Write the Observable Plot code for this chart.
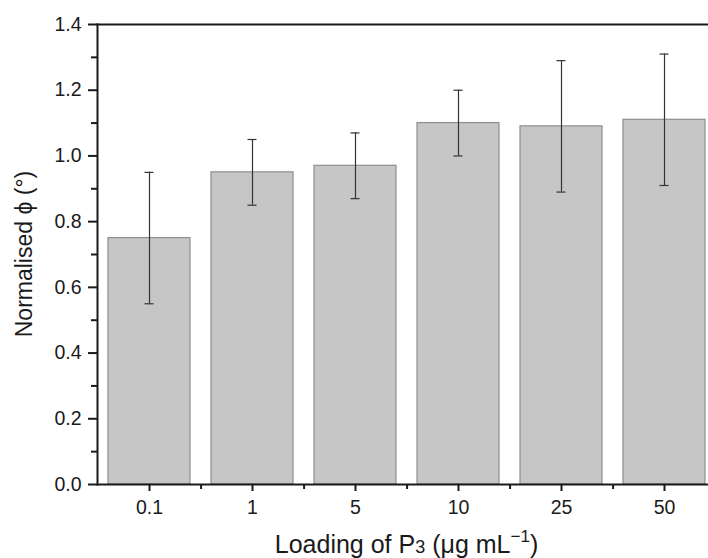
<!DOCTYPE html>
<html>
<head>
<meta charset="utf-8">
<script src="https://cdn.jsdelivr.net/npm/d3@7"></script>
<script src="https://cdn.jsdelivr.net/npm/@observablehq/plot@0.6"></script>
<style>
  html, body { margin: 0; padding: 0; background: #fff; }
  svg text.ticklab { font-size: 19.5px !important; }
</style>
</head>
<body>
<div id="chart"></div>
<script>
const categories = ["0.1", "1", "5", "10", "25", "50"];
const means = [0.75, 0.95, 0.97, 1.10, 1.09, 1.11];
const errors = [0.20, 0.10, 0.10, 0.10, 0.20, 0.20];
const yTicks = [0, 0.2, 0.4, 0.6, 0.8, 1.0, 1.2, 1.4];
const yMinorTicks = [0.1, 0.3, 0.5, 0.7, 0.9, 1.1, 1.3];

const data = categories.map((c, i) => ({cat: c, mean: means[i], lo: means[i] - errors[i], hi: means[i] + errors[i]}));

const W = 708, H = 558, ML = 97, MT = 24, MB = 74;
const xRange = [97, 716];
const step = (xRange[1] - xRange[0]) / categories.length;
const ink = "#1a1a1a";

const svg = Plot.plot({
  width: W, height: H,
  marginLeft: ML, marginTop: MT, marginBottom: MB, marginRight: 0,
  style: {fontFamily: "'Liberation Sans', Arial, sans-serif", background: "#fff", color: ink, overflow: "visible"},
  x: {domain: categories, range: xRange, paddingInner: 0.2, paddingOuter: 0.1, axis: null},
  y: {domain: [0, 1.4], axis: null},
  marks: [
    Plot.barY(data, {x: "cat", y: "mean", fill: "#c6c6c6", stroke: "#8e8e8e", strokeWidth: 1.2}),
    Plot.ruleX(data, {x: "cat", y1: "lo", y2: "hi", stroke: "#333", strokeWidth: 1.2}),
    Plot.tickY(data, {x: "cat", y: "lo", insetLeft: 36.5, insetRight: 36.5, stroke: "#333", strokeWidth: 1.2}),
    Plot.tickY(data, {x: "cat", y: "hi", insetLeft: 36.5, insetRight: 36.5, stroke: "#333", strokeWidth: 1.2}),
    Plot.axisY({ticks: yTicks, tickFormat: d3.format(".1f"), tickSize: 9, tickPadding: 7, label: null, strokeWidth: 2}),
    Plot.axisY({ticks: yMinorTicks, tickSize: 6, text: null, label: null, strokeWidth: 2}),
    Plot.axisX({ticks: categories, tickSize: 7, tickPadding: 9, label: null, strokeWidth: 2}),
    Plot.axisX({ticks: categories, tickSize: 5, text: null, label: null, dx: step / 2, strokeWidth: 2}),
    Plot.frame({anchor: "left", stroke: ink, strokeWidth: 2}),
    Plot.frame({anchor: "bottom", stroke: ink, strokeWidth: 2}),
    Plot.frame({anchor: "top", stroke: ink, strokeWidth: 1.8})
  ]
});

const s = d3.select(svg);
s.style("font-size", "19.5px");
s.selectAll("text").classed("ticklab", true).attr("font-size", "19.5px").style("font-size", "19.5px");
s.selectAll("g").attr("font-size", null);

const xt = s.append("text")
  .attr("x", (xRange[0] + xRange[1]) / 2)
  .attr("y", 553)
  .attr("text-anchor", "middle")
  .style("font-size", "25px")
  .attr("fill", ink);
xt.append("tspan").text("Loading of P");
xt.append("tspan").style("font-size", "18px").text("3");
xt.append("tspan").text(" (μg mL");
xt.append("tspan").style("font-size", "17px").attr("dy", -11).text("−1");
xt.append("tspan").attr("dy", 11).text(")");

s.append("text")
  .attr("transform", `translate(32, ${(MT + (H - MB)) / 2}) rotate(-90)`)
  .attr("text-anchor", "middle")
  .style("font-size", "23px")
  .attr("fill", ink)
  .text("Normalised ϕ (°)");

document.getElementById("chart").appendChild(svg);
</script>
</body>
</html>
